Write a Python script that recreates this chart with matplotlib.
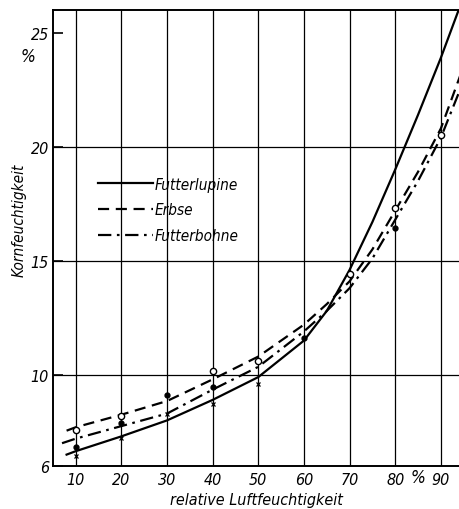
import matplotlib
matplotlib.use("Agg")
import matplotlib.pyplot as plt

# relative humidity (%) -> grain moisture (%)
lupine_x = [8, 10, 20, 30, 40, 50, 60, 65, 70, 75, 80, 85, 90, 93.9]
lupine_y = [6.5, 6.65, 7.3, 8.0, 8.9, 9.9, 11.5, 12.8, 14.6, 16.7, 19.0, 21.4, 23.9, 26.0]

erbse_x = [8, 10, 20, 30, 40, 50, 60, 65, 70, 75, 80, 85, 90, 94.2]
erbse_y = [7.55, 7.7, 8.25, 8.85, 9.8, 10.8, 12.2, 13.1, 14.1, 15.5, 17.2, 18.9, 20.8, 23.1]

bohne_x = [7, 10, 20, 30, 40, 50, 60, 65, 70, 75, 80, 85, 90, 94.2]
bohne_y = [7.0, 7.2, 7.75, 8.3, 9.35, 10.35, 11.9, 12.8, 13.8, 15.1, 16.8, 18.5, 20.4, 22.5]

# measured points
circle_x = [10, 20, 40, 50, 70, 80, 90]
circle_y = [7.6, 8.2, 10.15, 10.6, 14.4, 17.3, 20.5]
dot_x = [10, 20, 30, 40, 60, 80]
dot_y = [6.85, 7.9, 9.1, 9.45, 11.6, 16.45]
cross_x = [10, 20, 30, 40, 50]
cross_y = [6.45, 7.25, 8.3, 8.7, 9.6]

xticks = [10, 20, 30, 40, 50, 60, 70, 80, 90]
yticks = [6, 10, 15, 20, 25]

plt.rcParams["font.family"] = ["DejaVu Sans"]
plt.rcParams["font.stretch"] = "condensed"
plt.rcParams["font.style"] = "italic"

fig = plt.figure(figsize=(4.6, 5.1), dpi=100)
ax = fig.add_axes([0.115, 0.0843, 0.885, 0.8941])

for x in xticks:
    ax.axvline(x, color="black", lw=0.9, zorder=1)
for y in [10, 15, 20]:
    ax.axhline(y, color="black", lw=0.9, zorder=1)

ax.plot(lupine_x, lupine_y, color="black", lw=1.6, ls="-", label="Futterlupine")
ax.plot(erbse_x, erbse_y, color="black", lw=1.6, ls=(0, (5, 3)), label="Erbse")
ax.plot(bohne_x, bohne_y, color="black", lw=1.6, ls=(0, (6, 2.5, 1.2, 2.5)), label="Futterbohne")

ax.plot(circle_x, circle_y, "o", ms=4.5, mfc="white", mec="black", mew=1.0, zorder=5)
ax.plot(dot_x, dot_y, "o", ms=3.5, color="black", zorder=5)
ax.plot(cross_x, cross_y, "x", ms=3, color="black", mew=0.9, zorder=5)

ax.set_xlim(5, 94.2)
ax.set_ylim(6, 26)
ax.set_xticks(xticks)
ax.set_yticks(yticks)
ax.tick_params(axis="both", direction="in", length=7, width=1.2, labelsize=11.5, pad=3)
ax.tick_params(axis="x", length=0, pad=4)
for s in ["left", "bottom", "top"]:
    ax.spines[s].set_linewidth(1.4)
ax.spines["right"].set_visible(False)

ax.text(-0.062, 24.0, "%", transform=ax.get_yaxis_transform(), ha="center",
        va="center", fontsize=12.5)
ax.text(85, -0.025, "%", transform=ax.get_xaxis_transform(), ha="center",
        va="center", fontsize=12.5)

ax.set_xlabel("relative Luftfeuchtigkeit", fontsize=11.5, labelpad=4)
ax.set_ylabel("Kornfeuchtigkeit", fontsize=11)
ax.yaxis.set_label_coords(-0.064, 0.54)

ax.legend(loc="upper left", bbox_to_anchor=(0.078, 0.665), frameon=False,
          handlelength=3.6, handletextpad=0.1, labelspacing=0.7, fontsize=11)

fig.savefig("out.png", dpi=100)
